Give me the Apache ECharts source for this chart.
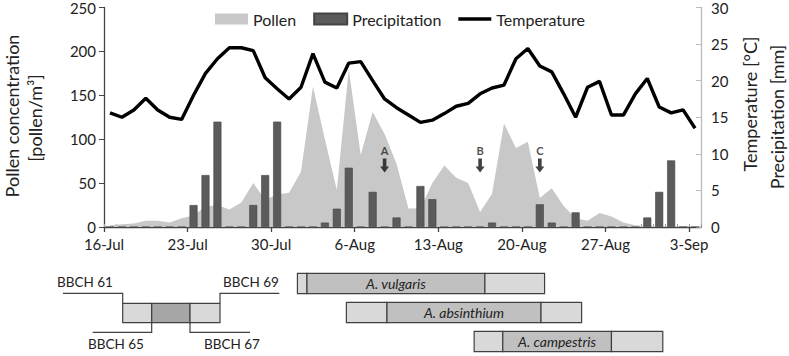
<!DOCTYPE html>
<html><head><meta charset="utf-8">
<script src="https://cdn.jsdelivr.net/npm/echarts@6/dist/echarts.min.js"></script>
<style>html,body{margin:0;padding:0;background:#fff}#c{width:789px;height:356px}</style>
</head><body><div id="c"></div>
<script>
const categories = ['16-Jul','17-Jul','18-Jul','19-Jul','20-Jul','21-Jul','22-Jul','23-Jul','24-Jul','25-Jul',
  '26-Jul','27-Jul','28-Jul','29-Jul','30-Jul','31-Jul','1-Aug','2-Aug','3-Aug','4-Aug',
  '5-Aug','6-Aug','7-Aug','8-Aug','9-Aug','10-Aug','11-Aug','12-Aug','13-Aug','14-Aug',
  '15-Aug','16-Aug','17-Aug','18-Aug','19-Aug','20-Aug','21-Aug','22-Aug','23-Aug','24-Aug',
  '25-Aug','26-Aug','27-Aug','28-Aug','29-Aug','30-Aug','31-Aug','1-Sep','2-Sep','3-Sep'];
const tickLabels = ['16-Jul','23-Jul','30-Jul','6-Aug','13-Aug','20-Aug','27-Aug','3-Sep'];
const pollen = [2,3,4,7,7,5,10,13,23,25,
  20,28,50,31,37,39,63,160,100,42,
  180,82,131,106,72,21,21,50,70,56,
  50,17,38,118,90,97,33,44,24,10,
  7,16,12,5,2,1,1,0,0,0];
const precipitation = [0,0,0,0,0,0,0,3.0,7.1,14.4,
  0,0,3.0,7.1,14.4,0,0,0,0.6,2.5,
  8.1,0,4.8,0,1.3,0,5.6,3.8,0,0,
  0,0,0.6,0,0,0,3.1,0.6,0,2.0,
  0,0,0,0,0,1.3,4.8,9.1,0,0];
const temperature = [15.6,15.0,16.0,17.6,16.0,15.0,14.7,18.0,21.0,23.0,
  24.5,24.5,24.1,20.4,18.9,17.5,19.1,23.7,19.8,19.0,
  22.4,22.6,20.0,17.5,16.3,15.3,14.3,14.6,15.5,16.5,
  16.9,18.2,19.0,19.4,23.0,24.4,22.0,21.2,18.2,15.0,
  19.1,19.9,15.3,15.3,18.2,20.3,16.4,15.6,16.0,13.5];
const arrowDays = [23, 31, 36];
const arrowLabels = ['A', 'B', 'C'];
const species = ['A. vulgaris', 'A. absinthium', 'A. campestris'];
const flowerStart = [16.2, 20.3, 31.0];
const fullStart = [17.0, 23.7, 33.4];
const fullEnd = [31.9, 36.6, 42.5];
const flowerEnd = [36.9, 40.0, 46.8];
const bbchLabels = ['BBCH 61', 'BBCH 65', 'BBCH 67', 'BBCH 69'];

const FONT = 'Lato, "Liberation Sans", sans-serif';
const tickValues = tickLabels.map((_, k) => k * 7);
const chart = echarts.init(document.getElementById('c'), null, {renderer: 'svg'});

const lineCol = '#404040';
const graphics = [
  {type:'text', x:12, y:116, rotation:Math.PI/2, style:{text:'Pollen concentration', font:'18px ' + FONT, fill:'#222', align:'center', verticalAlign:'middle'}},
  {type:'text', x:35, y:118, rotation:Math.PI/2, style:{text:'[pollen/m³]', font:'18px ' + FONT, fill:'#222', align:'center', verticalAlign:'middle'}},
  {type:'text', x:750, y:104, rotation:Math.PI/2, style:{text:'Temperature [°C]', font:'18px ' + FONT, fill:'#222', align:'center', verticalAlign:'middle'}},
  {type:'text', x:777, y:117, rotation:Math.PI/2, style:{text:'Precipitation [mm]', font:'18px ' + FONT, fill:'#222', align:'center', verticalAlign:'middle'}},
  // BBCH key
  {type:'rect', shape:{x:122.7, y:303.3, width:29, height:19.4}, style:{fill:'#d9d9d9', stroke:lineCol, lineWidth:1.2}},
  {type:'rect', shape:{x:151.7, y:303.3, width:38.3, height:19.4}, style:{fill:'#a6a6a6', stroke:lineCol, lineWidth:1.2}},
  {type:'rect', shape:{x:190, y:303.3, width:30, height:19.4}, style:{fill:'#d9d9d9', stroke:lineCol, lineWidth:1.2}},
  {type:'polyline', shape:{points:[[63,293.3],[122.7,293.3],[122.7,303.3]]}, style:{stroke:lineCol, lineWidth:1.2, fill:null}},
  {type:'polyline', shape:{points:[[279.3,293.3],[220,293.3],[220,303.3]]}, style:{stroke:lineCol, lineWidth:1.2, fill:null}},
  {type:'polyline', shape:{points:[[92.7,332.3],[151.7,332.3],[151.7,322.7]]}, style:{stroke:lineCol, lineWidth:1.2, fill:null}},
  {type:'polyline', shape:{points:[[250,332.3],[190,332.3],[190,322.7]]}, style:{stroke:lineCol, lineWidth:1.2, fill:null}},
  {type:'text', x:85, y:282, style:{text:bbchLabels[0], font:'13.5px ' + FONT, fill:'#222', align:'center', verticalAlign:'middle'}},
  {type:'text', x:116, y:343.5, style:{text:bbchLabels[1], font:'13.5px ' + FONT, fill:'#222', align:'center', verticalAlign:'middle'}},
  {type:'text', x:232, y:343.5, style:{text:bbchLabels[2], font:'13.5px ' + FONT, fill:'#222', align:'center', verticalAlign:'middle'}},
  {type:'text', x:251, y:282, style:{text:bbchLabels[3], font:'13.5px ' + FONT, fill:'#222', align:'center', verticalAlign:'middle'}}
];

const option = {
  animation: false,
  textStyle: {fontFamily: FONT},
  legend: {
    left: 210, top: 6, itemWidth: 33, itemHeight: 11, itemGap: 17,
    textStyle: {fontSize: 16, color: '#222', fontFamily: FONT},
    data: [
      {name:'Pollen', icon:'rect'},
      {name:'Precipitation', icon:'rect'},
      {name:'Temperature', icon:'path://M0,0 L33,0 L33,3.3 L0,3.3 Z'}
    ]
  },
  grid: [
    {left: 104, right: 88, top: 7, bottom: 129},
    {left: 104, right: 88, top: 269, height: 88}
  ],
  xAxis: [
    {type:'category', gridIndex:0, data:categories, boundaryGap:true,
     axisLine:{lineStyle:{color:'#444', width:1.3}},
     axisTick:{show:true, inside:true, length:3, interval:0, lineStyle:{color:'#999'}},
     axisLabel:{show:false}, splitLine:{show:false}},
    {type:'value', gridIndex:0, position:'bottom', min:0, max:categories.length,
     axisLine:{show:false},
     axisTick:{show:true, length:5, customValues:tickValues, lineStyle:{color:'#444', width:1.3}},
     axisLabel:{customValues:tickValues, formatter: v => tickLabels[Math.round(v/7)] || '', fontSize:15, color:'#222', margin:9, fontFamily:FONT},
     splitLine:{show:false}},
    {type:'value', gridIndex:1, min:0, max:categories.length, show:false}
  ],
  yAxis: [
    {type:'value', gridIndex:0, min:0, max:250, interval:50,
     axisLine:{show:true, lineStyle:{color:'#444', width:1.3}},
     axisTick:{show:true, length:5, lineStyle:{color:'#444'}},
     axisLabel:{fontSize:15, color:'#222', margin:8, fontFamily:FONT}, splitLine:{show:false}},
    {type:'value', gridIndex:0, position:'right', min:0, max:30, interval:5,
     axisLine:{show:true, lineStyle:{color:'#bbb', width:1.3}},
     axisTick:{show:true, inside:true, length:5, lineStyle:{color:'#bbb'}},
     axisLabel:{fontSize:15, color:'#222', margin:10, fontFamily:FONT}, splitLine:{show:false}},
    {type:'category', gridIndex:1, data:species, inverse:true, show:false}
  ],
  series: [
    {name:'Pollen', type:'line', xAxisIndex:0, yAxisIndex:0, data:pollen, symbol:'none',
     lineStyle:{width:0}, itemStyle:{color:'#c8c8c8'}, areaStyle:{color:'#c8c8c8', opacity:1}, z:1},
    {name:'Precipitation', type:'bar', xAxisIndex:0, yAxisIndex:1, data:precipitation, barWidth:8,
     itemStyle:{color:'#5b5b5b', borderColor:'#444', borderWidth:0.6}, z:2},
    {name:'Temperature', type:'line', xAxisIndex:0, yAxisIndex:1, data:temperature, symbol:'none',
     lineStyle:{color:'#000', width:3.4}, itemStyle:{color:'#000'}, z:3},
    {name:'Events', type:'scatter', xAxisIndex:0, yAxisIndex:0,
     data: arrowDays.map((d, k) => ({value:[d, 70], name: arrowLabels[k]})),
     symbol:'path://M3,0 L7,0 L7,8 L10,8 L5,14 L0,8 L3,8 Z', symbolSize:[9,14],
     itemStyle:{color:'#111'},
     label:{show:true, position:'top', distance:3, formatter: p => p.name, fontSize:11, fontWeight:'bold', color:'#222', fontFamily:FONT},
     z:4},
    {name:'Flowering', type:'custom', xAxisIndex:2, yAxisIndex:2,
     data: species.map((s, k) => [k, flowerStart[k], fullStart[k], fullEnd[k], flowerEnd[k]]),
     encode:{x:[1,2,3,4], y:0},
     renderItem: function (params, api) {
       const row = api.value(0);
       const p1 = api.coord([api.value(1), row]);
       const p2 = api.coord([api.value(2), row]);
       const p3 = api.coord([api.value(3), row]);
       const p4 = api.coord([api.value(4), row]);
       const h = api.size([0, 1])[1] * 0.7;
       const y = p1[1] - h / 2;
       const st = {stroke:'#404040', lineWidth:1.2};
       return {type:'group', children:[
         {type:'rect', shape:{x:p1[0], y:y, width:p2[0]-p1[0], height:h}, style:Object.assign({fill:'#d9d9d9'}, st)},
         {type:'rect', shape:{x:p2[0], y:y, width:p3[0]-p2[0], height:h}, style:Object.assign({fill:'#c0c0c0'}, st)},
         {type:'rect', shape:{x:p3[0], y:y, width:p4[0]-p3[0], height:h}, style:Object.assign({fill:'#d9d9d9'}, st)},
         {type:'text', x:(p2[0]+p3[0])/2, y:p1[1], style:{text:species[row], font:'italic 14px ' + FONT, fill:'#222', align:'center', verticalAlign:'middle'}}
       ]};
     }, z:2}
  ],
  graphic: graphics
};
chart.setOption(option);
</script></body></html>
